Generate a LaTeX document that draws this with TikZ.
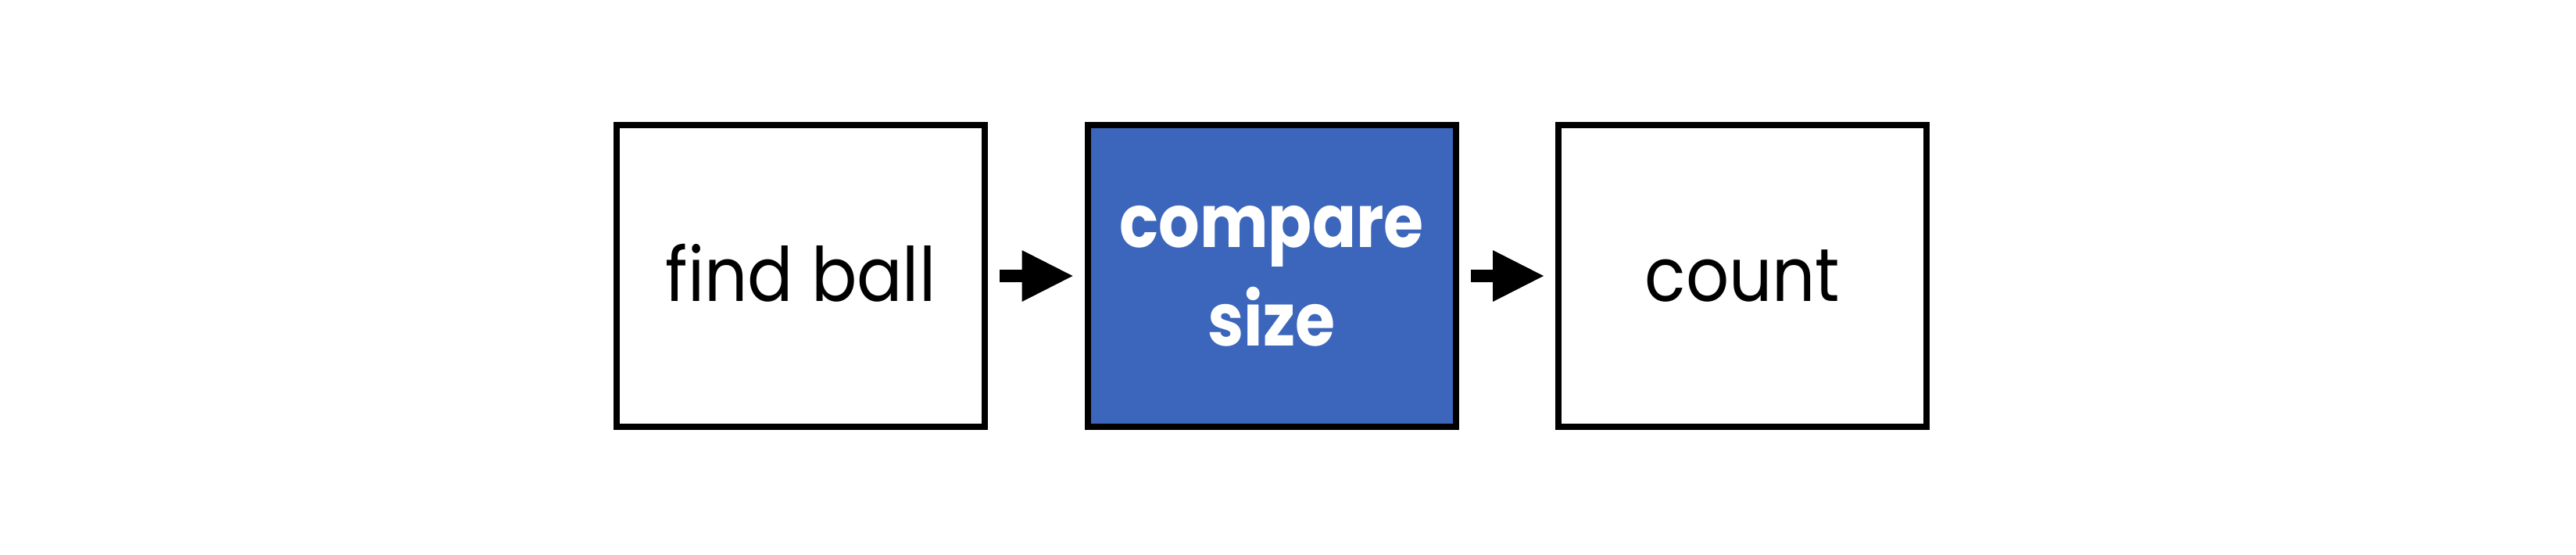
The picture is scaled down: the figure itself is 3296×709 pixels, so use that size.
\documentclass[tikz,border=0pt]{standalone}
\usepackage{fontspec}
\setmainfont{Poppins}[FakeStretch=0.9]
\newfontfamily\heavyfont{Poppins}[FakeStretch=0.88]
\usetikzlibrary{arrows.meta}
\definecolor{boxblue}{RGB}{59,102,188}
\begin{document}
\begin{tikzpicture}[x=0.5pt,y=-0.5pt,
  stepbox/.style={draw=black, line width=4pt, minimum width=235.5pt,
    minimum height=193pt, inner sep=0pt, align=center,
    font=\fontsize{48}{63}\selectfont},
  plainbox/.style={stepbox, fill=white, text height=32pt, text depth=0pt},
  bluebox/.style={stepbox, fill=boxblue, text=white,
    font=\heavyfont\fontsize{47}{63}\selectfont\bfseries},
  flow/.style={line width=8pt, draw=black,
    -{Triangle[length=32.5pt, width=33pt, line width=0pt]},
    shorten <=7.5pt, shorten >=7.5pt}]
\useasboundingbox (0,0) rectangle (3296,709);
\fill[white] (0,0) rectangle (3296,709);
\node[plainbox] (find) at (1024.5,353) {find ball};
\node[bluebox] (cmp) at (1627,353) {compare\\size};
\node[plainbox] (count) at (2229.5,353) {count};
\draw[flow] (find) -- (cmp);
\draw[flow] (cmp) -- (count);
\end{tikzpicture}
\end{document}
